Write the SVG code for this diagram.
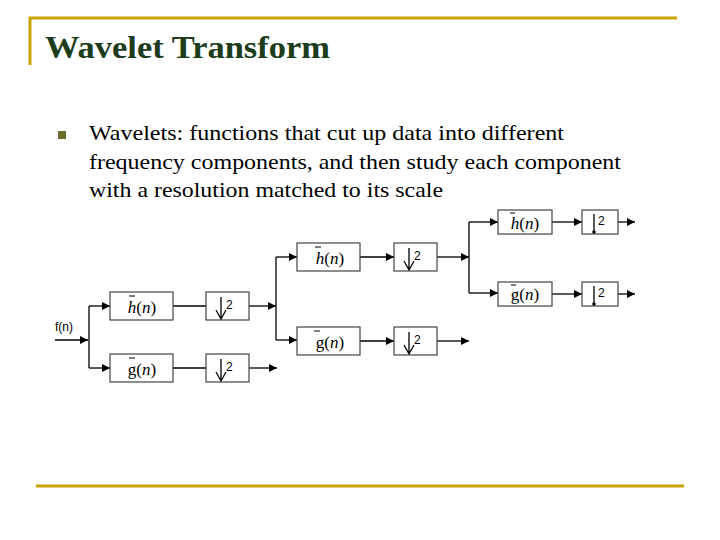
<svg xmlns="http://www.w3.org/2000/svg" width="720" height="540" viewBox="0 0 720 540">
<defs><marker id="a" markerWidth="8" markerHeight="8" refX="8" refY="4" orient="auto" markerUnits="userSpaceOnUse"><path d="M0,0L8,4L0,8z" fill="#000"/></marker></defs>
<style>
.b{fill:#fff;stroke:#444;stroke-width:1.2}
.l{fill:none;stroke:#000;stroke-width:1.3}
.m{font-family:"Liberation Serif",serif;font-size:17px;text-anchor:middle}
.s{font-family:"Liberation Sans",sans-serif;font-size:12px}
</style>
<rect width="720" height="540" fill="#fff"/>
<g id="frame" stroke="#c8a400" stroke-width="3" fill="none"><path d="M30,65V18H677"/><path d="M36,486H684"/></g>
<text x="45" y="58" font-family="Liberation Serif,serif" font-size="32" font-weight="bold" fill="#1c3c1c" textLength="285" lengthAdjust="spacingAndGlyphs">Wavelet Transform</text>
<rect x="58" y="131" width="8" height="8" fill="#6b6b2b"/>
<g font-family="Liberation Serif,serif" font-size="22" fill="#000"><text x="89" y="140" textLength="475" lengthAdjust="spacingAndGlyphs">Wavelets: functions that cut up data into different</text><text x="89" y="169" textLength="532" lengthAdjust="spacingAndGlyphs">frequency components, and then study each component</text><text x="89" y="197" textLength="354" lengthAdjust="spacingAndGlyphs">with a resolution matched to its scale</text></g>
<g id="connectors" class="l">
<path d="M55,340H88" marker-end="url(#a)"/>
<path d="M89,306V368"/><path d="M89,306H110" marker-end="url(#a)"/><path d="M89,368H110" marker-end="url(#a)"/>
<path d="M173,306H206"/><path d="M173,368H206"/>
<path d="M249,306H276" marker-end="url(#a)"/><path d="M249,368H277" marker-end="url(#a)"/>
<path d="M276,257V340"/><path d="M276,257H297" marker-end="url(#a)"/><path d="M276,340H297" marker-end="url(#a)"/>
<path d="M360,257H394" marker-end="url(#a)"/><path d="M360,341H394" marker-end="url(#a)"/>
<path d="M437,257H469" marker-end="url(#a)"/><path d="M437,341H469" marker-end="url(#a)"/>
<path d="M469,222V293"/><path d="M469,222H498" marker-end="url(#a)"/><path d="M469,293H498" marker-end="url(#a)"/>
<path d="M552,222H582" marker-end="url(#a)"/><path d="M552,294H582" marker-end="url(#a)"/>
<path d="M618,222H635" marker-end="url(#a)"/><path d="M618,294H635" marker-end="url(#a)"/>
</g>
<text class="s" x="55" y="331">f(n)</text>
<g id="h1"><rect class="b" x="110" y="292" width="63" height="28"/><text class="m" x="142" y="313"><tspan font-style="italic">h</tspan>(<tspan font-style="italic">n</tspan>)</text><path d="M129,296h6" stroke="#000"/></g>
<g id="g1"><rect class="b" x="110" y="354" width="63" height="28"/><text class="m" x="142" y="375">g(<tspan font-style="italic">n</tspan>)</text><path d="M129,358h6" stroke="#000"/></g>
<g id="d1"><rect class="b" x="206" y="292" width="43" height="28"/><path d="M221,297V319M216,310L221,319L226,310" class="l"/><text class="s" x="226" y="309">2</text></g>
<g id="d2"><rect class="b" x="206" y="354" width="43" height="28"/><path d="M221,359V381M216,372L221,381L226,372" class="l"/><text class="s" x="226" y="371">2</text></g>
<g id="h2"><rect class="b" x="297" y="243" width="63" height="28"/><text class="m" x="330" y="264"><tspan font-style="italic">h</tspan>(<tspan font-style="italic">n</tspan>)</text><path d="M315,247h6" stroke="#000"/></g>
<g id="g2"><rect class="b" x="297" y="327" width="63" height="28"/><text class="m" x="330" y="348">g(<tspan font-style="italic">n</tspan>)</text><path d="M314,331h6" stroke="#000"/></g>
<g id="d3"><rect class="b" x="394" y="243" width="43" height="28"/><path d="M409,248V270M404,261L409,270L414,261" class="l"/><text class="s" x="414" y="260">2</text></g>
<g id="d4"><rect class="b" x="394" y="327" width="43" height="28"/><path d="M409,332V354M404,345L409,354L414,345" class="l"/><text class="s" x="414" y="344">2</text></g>
<g id="h3"><rect class="b" x="498" y="210" width="54" height="24"/><text class="m" x="525" y="229" font-size="15"><tspan font-style="italic">h</tspan>(<tspan font-style="italic">n</tspan>)</text><path d="M510,213h5" stroke="#000"/></g>
<g id="g3"><rect class="b" x="498" y="282" width="54" height="24"/><text class="m" x="525" y="300" font-size="15">g(<tspan font-style="italic">n</tspan>)</text><path d="M511,285h5" stroke="#000"/></g>
<g id="d5"><rect class="b" x="582" y="210" width="36" height="24"/><path d="M594,214V232" class="l" stroke-width="2"/><circle cx="594" cy="232" r="1.8"/><text class="s" x="598" y="225">2</text></g>
<g id="d6"><rect class="b" x="582" y="282" width="36" height="24"/><path d="M594,286V304" class="l" stroke-width="2"/><circle cx="594" cy="304" r="1.8"/><text class="s" x="598" y="297">2</text></g>
</svg>
